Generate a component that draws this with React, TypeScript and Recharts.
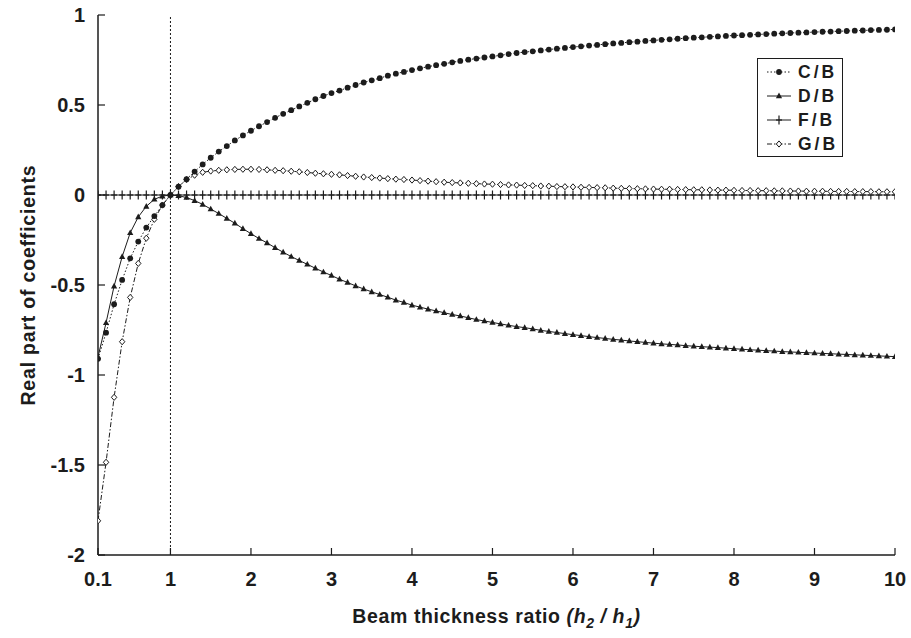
import React from 'react';
import {
  LineChart, Line, XAxis, YAxis, ReferenceLine, Legend,
} from 'recharts';

// thickness ratio h2/h1, one point every 0.1
const RATIOS = [
  0.1, 0.2, 0.3, 0.4, 0.5, 0.6, 0.7, 0.8, 0.9, 1.0,
  1.1, 1.2, 1.3, 1.4, 1.5, 1.6, 1.7, 1.8, 1.9, 2.0,
  2.1, 2.2, 2.3, 2.4, 2.5, 2.6, 2.7, 2.8, 2.9, 3.0,
  3.1, 3.2, 3.3, 3.4, 3.5, 3.6, 3.7, 3.8, 3.9, 4.0,
  4.1, 4.2, 4.3, 4.4, 4.5, 4.6, 4.7, 4.8, 4.9, 5.0,
  5.1, 5.2, 5.3, 5.4, 5.5, 5.6, 5.7, 5.8, 5.9, 6.0,
  6.1, 6.2, 6.3, 6.4, 6.5, 6.6, 6.7, 6.8, 6.9, 7.0,
  7.1, 7.2, 7.3, 7.4, 7.5, 7.6, 7.7, 7.8, 7.9, 8.0,
  8.1, 8.2, 8.3, 8.4, 8.5, 8.6, 8.7, 8.8, 8.9, 9.0,
  9.1, 9.2, 9.3, 9.4, 9.5, 9.6, 9.7, 9.8, 9.9, 10.0,
];

const C_B = [
  -0.91, -0.765, -0.607, -0.472, -0.352, -0.259, -0.181, -0.117, -0.056, 0.0,
  0.046, 0.088, 0.13, 0.17, 0.207, 0.241, 0.272, 0.303, 0.331, 0.357,
  0.382, 0.405, 0.429, 0.451, 0.471, 0.492, 0.512, 0.532, 0.55, 0.566,
  0.58, 0.596, 0.611, 0.625, 0.637, 0.649, 0.663, 0.674, 0.684, 0.694,
  0.704, 0.713, 0.721, 0.729, 0.737, 0.745, 0.752, 0.758, 0.764, 0.77,
  0.776, 0.783, 0.789, 0.794, 0.798, 0.803, 0.808, 0.813, 0.817, 0.822,
  0.826, 0.83, 0.834, 0.838, 0.842, 0.845, 0.849, 0.852, 0.856, 0.859,
  0.862, 0.865, 0.868, 0.871, 0.874, 0.876, 0.879, 0.881, 0.884, 0.886,
  0.888, 0.89, 0.892, 0.894, 0.896, 0.898, 0.9, 0.902, 0.903, 0.905,
  0.907, 0.908, 0.91, 0.911, 0.913, 0.914, 0.916, 0.917, 0.918, 0.92,
];

const D_B = [
  -0.9, -0.71, -0.506, -0.343, -0.21, -0.122, -0.063, -0.024, -0.006, 0.0,
  -0.004, -0.014, -0.031, -0.052, -0.078, -0.103, -0.13, -0.157, -0.187, -0.215,
  -0.242, -0.266, -0.293, -0.318, -0.342, -0.364, -0.385, -0.407, -0.428, -0.447,
  -0.468, -0.486, -0.505, -0.522, -0.538, -0.553, -0.568, -0.584, -0.597, -0.612,
  -0.623, -0.634, -0.644, -0.654, -0.664, -0.672, -0.682, -0.692, -0.7, -0.708,
  -0.716, -0.724, -0.731, -0.737, -0.744, -0.752, -0.758, -0.764, -0.77, -0.776,
  -0.781, -0.787, -0.792, -0.797, -0.802, -0.806, -0.811, -0.815, -0.819, -0.823,
  -0.827, -0.83, -0.833, -0.837, -0.84, -0.843, -0.845, -0.848, -0.851, -0.854,
  -0.857, -0.86, -0.862, -0.865, -0.867, -0.87, -0.872, -0.874, -0.876, -0.878,
  -0.88, -0.882, -0.884, -0.886, -0.888, -0.89, -0.892, -0.894, -0.896, -0.898,
];

const F_B = [
  0, 0, 0, 0, 0, 0, 0, 0, 0, 0,
  0, 0, 0, 0, 0, 0, 0, 0, 0, 0,
  0, 0, 0, 0, 0, 0, 0, 0, 0, 0,
  0, 0, 0, 0, 0, 0, 0, 0, 0, 0,
  0, 0, 0, 0, 0, 0, 0, 0, 0, 0,
  0, 0, 0, 0, 0, 0, 0, 0, 0, 0,
  0, 0, 0, 0, 0, 0, 0, 0, 0, 0,
  0, 0, 0, 0, 0, 0, 0, 0, 0, 0,
  0, 0, 0, 0, 0, 0, 0, 0, 0, 0,
  0, 0, 0, 0, 0, 0, 0, 0, 0, 0,
];

const G_B = [
  -1.81, -1.485, -1.124, -0.815, -0.569, -0.38, -0.24, -0.135, -0.056, 0.0,
  0.047, 0.085, 0.11, 0.126, 0.133, 0.137, 0.14, 0.142, 0.143, 0.143,
  0.142, 0.14, 0.137, 0.135, 0.132, 0.129, 0.125, 0.121, 0.118, 0.115,
  0.112, 0.108, 0.104, 0.1, 0.097, 0.094, 0.091, 0.088, 0.086, 0.083,
  0.08, 0.077, 0.074, 0.071, 0.069, 0.067, 0.065, 0.063, 0.061, 0.06,
  0.058, 0.056, 0.055, 0.053, 0.052, 0.05, 0.049, 0.047, 0.046, 0.045,
  0.043, 0.042, 0.041, 0.04, 0.038, 0.037, 0.036, 0.035, 0.034, 0.033,
  0.032, 0.032, 0.031, 0.03, 0.029, 0.029, 0.028, 0.027, 0.027, 0.026,
  0.025, 0.025, 0.024, 0.024, 0.023, 0.023, 0.022, 0.022, 0.021, 0.021,
  0.021, 0.02, 0.02, 0.02, 0.019, 0.019, 0.019, 0.018, 0.018, 0.018,
];

const X_TICKS = [0.1, 1, 2, 3, 4, 5, 6, 7, 8, 9, 10];
const Y_TICKS = [-2, -1.5, -1, -0.5, 0, 0.5, 1];

const INK = '#1c1c1c';
const FONT = '"Liberation Sans", Arial, Helvetica, sans-serif';
const TICK_LEN = 7;

type MarkerKind = 'circle' | 'triangle' | 'plus' | 'diamond';

const SERIES: { key: string; name: string; dash?: string; marker: MarkerKind }[] = [
  { key: 'fb', name: 'F/B', marker: 'plus' },
  { key: 'db', name: 'D/B', marker: 'triangle' },
  { key: 'gb', name: 'G/B', dash: '5 2 1.5 2', marker: 'diamond' },
  { key: 'cb', name: 'C/B', dash: '1.5 2', marker: 'circle' },
];

const LEGEND_ORDER = ['cb', 'db', 'fb', 'gb'];

const data = RATIOS.map((x, i) => ({
  x, cb: C_B[i], db: D_B[i], fb: F_B[i], gb: G_B[i],
}));

function Marker({ kind, cx, cy }: { kind: MarkerKind; cx: number; cy: number }) {
  switch (kind) {
    case 'circle':
      return <circle cx={cx} cy={cy} r={2.9} fill={INK} />;
    case 'triangle':
      return (
        <polygon
          points={`${cx},${cy - 3.4} ${cx - 3.1},${cy + 2.3} ${cx + 3.1},${cy + 2.3}`}
          fill={INK}
        />
      );
    case 'plus':
      return (
        <g stroke={INK} strokeWidth={1.2}>
          <line x1={cx} y1={cy - 4.5} x2={cx} y2={cy + 4.5} />
          <line x1={cx - 3} y1={cy} x2={cx + 3} y2={cy} />
        </g>
      );
    default:
      return (
        <polygon
          points={`${cx},${cy - 3.1} ${cx + 2.7},${cy} ${cx},${cy + 3.1} ${cx - 2.7},${cy}`}
          fill="#fff"
          stroke={INK}
          strokeWidth={1}
        />
      );
  }
}

const dotFor = (kind: MarkerKind) => (props: any) => (
  <Marker key={`${kind}-${props.index}`} kind={kind} cx={props.cx} cy={props.cy} />
);

function BottomTick({ x, y, payload }: any) {
  return (
    <g>
      <line x1={x} y1={y} x2={x} y2={y - TICK_LEN} stroke={INK} strokeWidth={1.2} />
      <text x={x} y={y + 31} textAnchor="middle" fontFamily={FONT} fontWeight="bold"
        fontSize={20} fill={INK}>
        {String(payload.value)}
      </text>
    </g>
  );
}

function TopTick({ x, y }: any) {
  return <line x1={x} y1={y} x2={x} y2={y + TICK_LEN} stroke={INK} strokeWidth={1.2} />;
}

function LeftTick({ x, y, payload }: any) {
  return (
    <g>
      <line x1={x} y1={y} x2={x + TICK_LEN} y2={y} stroke={INK} strokeWidth={1.2} />
      <text x={x - 13} y={y + 7} textAnchor="end" fontFamily={FONT} fontWeight="bold"
        fontSize={20} fill={INK}>
        {String(payload.value)}
      </text>
    </g>
  );
}

function RightTick({ x, y }: any) {
  return <line x1={x} y1={y} x2={x - TICK_LEN} y2={y} stroke={INK} strokeWidth={1.2} />;
}

function XTitle({ viewBox }: any) {
  const cx = viewBox.x + viewBox.width / 2;
  return (
    <text x={cx} y={viewBox.y + 68} textAnchor="middle" fontFamily={FONT}
      fontWeight="bold" fontSize={19.5} letterSpacing={0.6} fill={INK}>
      Beam thickness ratio{' '}
      <tspan fontStyle="italic">(h</tspan>
      <tspan fontStyle="italic" fontSize={14} dy={5}>2</tspan>
      <tspan fontStyle="italic" dy={-5}> / h</tspan>
      <tspan fontStyle="italic" fontSize={14} dy={5}>1</tspan>
      <tspan fontStyle="italic" dy={-5}>)</tspan>
    </text>
  );
}

function YTitle({ viewBox }: any) {
  const cy = viewBox.y + viewBox.height / 2;
  return (
    <text x={35} y={cy} transform={`rotate(-90 35 ${cy})`} textAnchor="middle"
      fontFamily={FONT} fontWeight="bold" fontSize={19.5} letterSpacing={0.8} fill={INK}>
      Real part of coefficients
    </text>
  );
}

function LegendBox() {
  return (
    <div style={{
      width: 86, height: 99, border: `1.5px solid ${INK}`, background: '#fff',
      boxSizing: 'border-box', paddingTop: 1,
    }}>
      {LEGEND_ORDER.map(k => {
        const s = SERIES.find(v => v.key === k)!;
        return (
          <div key={k} style={{ display: 'flex', alignItems: 'center', height: 24 }}>
            <svg width={40} height={24} style={{ display: 'block' }}>
              <line x1={9} y1={12} x2={33} y2={12} stroke={INK} strokeWidth={1}
                strokeDasharray={s.dash} />
              <Marker kind={s.marker} cx={21} cy={12} />
            </svg>
            <span style={{
              fontFamily: FONT, fontWeight: 'bold', fontSize: 17.5, color: INK,
              letterSpacing: 3,
            }}>
              {s.name}
            </span>
          </div>
        );
      })}
    </div>
  );
}

export default function App() {
  return (
    <div style={{ position: 'absolute', left: 0, top: 0, width: 911, height: 638, background: '#fff' }}>
      <LineChart width={911} height={638} data={data}
        margin={{ top: 15, right: 16, bottom: 0, left: 0 }}>
        <XAxis dataKey="x" type="number" domain={[0.1, 10]} ticks={X_TICKS}
          allowDataOverflow height={83} tickSize={0} tickMargin={0}
          axisLine={{ stroke: INK, strokeWidth: 1.5 }} tickLine={false}
          tick={<BottomTick />} interval={0}
          label={{ content: XTitle }} />
        <XAxis xAxisId="top" orientation="top" dataKey="x" type="number"
          domain={[0.1, 10]} ticks={X_TICKS} allowDataOverflow height={0}
          tickSize={0} tickMargin={0} axisLine={{ stroke: INK, strokeWidth: 1.5 }}
          tickLine={false} tick={<TopTick />} interval={0} />
        <YAxis type="number" domain={[-2, 1]} ticks={Y_TICKS} allowDataOverflow
          width={98} tickSize={0} tickMargin={0}
          axisLine={{ stroke: INK, strokeWidth: 1.5 }} tickLine={false}
          tick={<LeftTick />} interval={0}
          label={{ content: YTitle }} />
        <YAxis yAxisId="right" orientation="right" type="number" domain={[-2, 1]}
          ticks={Y_TICKS} allowDataOverflow width={0} tickSize={0} tickMargin={0}
          axisLine={{ stroke: INK, strokeWidth: 1.5 }} tickLine={false}
          tick={<RightTick />} interval={0} />
        <ReferenceLine x={1} stroke={INK} strokeWidth={1} strokeDasharray="2 2" />
        {SERIES.map(s => (
          <Line key={s.key} type="linear" dataKey={s.key} name={s.name}
            stroke={INK} strokeWidth={1} strokeDasharray={s.dash}
            dot={dotFor(s.marker)} activeDot={false} isAnimationActive={false} />
        ))}
        <Legend layout="vertical" align="center" verticalAlign="middle"
          content={<LegendBox />}
          wrapperStyle={{ position: 'absolute', left: 757, top: 58, width: 86, height: 99 }} />
      </LineChart>
    </div>
  );
}
